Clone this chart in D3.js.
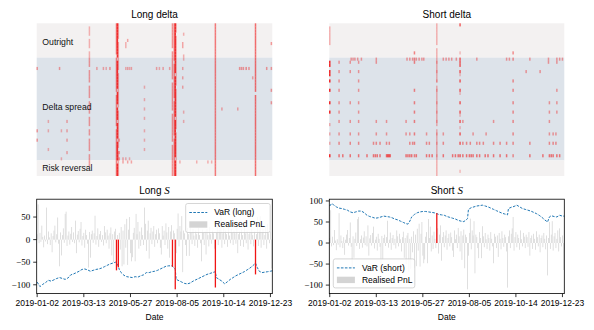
<!DOCTYPE html>
<html>
<head>
<meta charset="utf-8">
<script src="https://cdn.jsdelivr.net/npm/d3@7"></script>
<style>
body { margin: 0; background: #fff; }
svg { font-family: "Liberation Sans", Arial, sans-serif; }
</style>
</head>
<body>
<script>
// ---- data ----
var tickDays = [0, 50, 100, 150, 200, 250];
var tickLabels = ["2019-01-02", "2019-03-13", "2019-05-27", "2019-08-05", "2019-10-14", "2019-12-23"];

var groupNames = ["Outright", "Delta spread", "Risk reversal"];
var groupRows = [11, 33, 5];

// realised PnL per business day (same series in both panels)
var pnl = [
  12, 78, -8, 15, -5, 31, 6, -17, 9, -4,
  71, -10, 18, 5, -12, 14, -28, 8, 20, 31,
  -6, 12, 49, -9, -59, 16, -35, 10, 25, -7,
  57, 62, -14, 9, 18, -11, 13, 28, -5, 16,
  -8, 42, -30, 11, 19, -6, 24, 39, -13, 8,
  15, -18, 22, 10, -9, -62, 17, -40, 12, 20,
  -7, 14, 53, -11, 8, 25, -16, 12, 19, -5,
  10, -13, 30, 16, -8, 22, 9, -20, 14, 27,
  -35, 12, -50, 18, 24, -68, 10, -61, 15, -22,
  28, -59, 20, -55, 34, -18, 46, -56, 22, 50,
  -30, -48, -39, 15, 26, -48, 57, 12, 39, -20,
  18, -14, 27, 10, -12, 71, 35, -25, 20, 42,
  -42, 14, 26, -10, 18, 30, -16, 12, 22, -8,
  25, 14, -18, -33, 30, 9, 20, -12, 36, 16,
  -20, 28, -40, 18, 32, -60, 20, 14, -110, -30,
  24, 58, -15, 30, 18, 52, -72, 20, 14, -12,
  -36, 26, 12, -36, 40, 16, -10, 24, 9, -14,
  20, 12, -18, 26, 10, -8, -48, 22, 15, -12,
  18, -33, 24, 10, -15, 28, 12, -9, 20, 14,
  -20, -106, 16, 30, -12, 22, 35, 62, -18, 14,
  26, -10, 20, 12, -16, 30, 9, -8, 24, 15,
  -12, 20, 14, -9, 26, -30, 12, 18, -14, 22,
  10, -16, 28, 14, -8, 20, -22, 12, 18, -10,
  24, 10, -15, 18, -77, 12, 50, -14, 20, 52,
  -18, 16, 24, -12, 10, 30, -20, 35, 14, -8,
  18, -64
];

// VaR: [day, value]
var varLong = [[0,-94],[3,-104],[6,-99],[9,-95],[12,-90],[15,-92],[18,-89],[21,-86],[24,-84],[27,-86],
  [30,-88],[33,-85],[36,-78],[39,-76],[42,-73],[45,-70],[48,-66],[51,-65],[54,-67],[57,-70],
  [60,-68],[63,-66],[66,-65],[69,-63],[72,-60],[75,-57],[78,-54],[81,-52],[84,-50],[86,-53],
  [88,-66],[90,-73],[93,-79],[96,-82],[99,-83],[102,-84],[105,-82],[108,-83],[111,-80],[114,-78],
  [117,-73],[120,-73],[123,-71],[126,-70],[129,-68],[132,-65],[135,-62],[138,-59],[141,-58],[144,-58],
  [146,-61],[148,-66],[149,-88],[152,-91],[155,-94],[158,-97],[161,-98],[164,-96],[167,-92],[170,-89],
  [173,-86],[176,-83],[179,-80],[182,-77],[185,-75],[188,-73],[191,-71],[192,-84],[195,-88],[198,-92],
  [201,-98],[204,-93],[207,-88],[210,-84],[213,-80],[216,-77],[219,-74],[222,-71],[225,-67],[228,-63],
  [231,-58],[233,-54],[234,-52],[236,-62],[238,-70],[241,-73],[244,-72],[247,-71],[250,-70],[252,-69]];

var varShort = [[0,88],[2,94],[4,91],[7,86],[10,83],[13,82],[16,80],[19,78],[22,74],[25,72],
  [28,74],[31,76],[34,76],[37,72],[40,66],[43,63],[46,61],[49,59],[52,60],[55,62],
  [58,64],[61,63],[64,62],[67,60],[70,57],[73,55],[76,52],[79,49],[82,46],[84,45],
  [86,52],[88,62],[91,68],[94,72],[97,74],[100,75],[103,75],[106,74],[109,73],[112,72],
  [115,70],[117,68],[120,67],[123,66],[126,63],[129,61],[132,59],[135,57],[138,54],[141,52],
  [144,51],[146,54],[148,58],[149,80],[152,84],[155,86],[158,88],[161,89],[164,90],[167,88],
  [170,86],[173,83],[176,80],[179,77],[182,74],[185,71],[188,69],[191,67],[192,82],[195,85],
  [198,87],[201,90],[204,86],[207,82],[210,80],[213,78],[216,76],[219,73],[222,70],[225,66],
  [228,61],[231,55],[234,50],[236,62],[238,65],[241,63],[244,62],[247,66],[250,64],[252,64]];

var longBreaches = [85, 87, 145, 148, 191, 234];
var shortBreaches = [115];

// heatmap columns: [day, alpha, fromRow, toRow, rows left empty]
var longHeatCols = [
  [56, 0.3, 1, 10, [4, 8]],
  [56, 0.4, 11, 45, [14, 19, 24, 29, 33, 36, 41]],
  [85, 0.5, 0, 48, [10, 22, 33]],
  [86, 0.85, 0, 48, [11, 21, 26, 31, 37, 44]],
  [87, 0.35, 0, 48, [5, 15, 27, 40]],
  [145, 0.45, 0, 48, [8, 18, 28, 38]],
  [147, 0.5, 0, 48, [12, 24, 36]],
  [148, 0.85, 0, 48, [16, 30, 43]],
  [149, 0.3, 0, 48, [3, 20, 34]],
  [191, 0.55, 0, 48, []],
  [234, 0.6, 0, 48, [22]]
];
// single cells grouped by day: [day, alpha, rows]
var longHeatDots = [
  [0, 0.4, [14, 34, 37]], [12, 0.3, [31, 34, 40]], [24, 0.4, [14]], [26, 0.3, [34, 43]],
  [32, 0.35, [31, 34, 37, 41]], [64, 0.35, [14]], [71, 0.35, [14]], [74, 0.3, [14]],
  [78, 0.4, [14]], [88, 0.35, [37, 41, 43]], [92, 0.35, [43, 44]], [95, 0.3, [6, 7, 14, 43]],
  [97, 0.35, [5, 14, 44]], [99, 0.3, [14, 43]], [101, 0.35, [14, 44]],
  [115, 0.3, [20, 24, 27, 30, 34, 37, 40]], [128, 0.35, [14]], [131, 0.3, [14]],
  [135, 0.35, [14]], [142, 0.35, [14]], [153, 0.3, [44]], [156, 0.35, [6, 7, 14, 17, 20]],
  [157, 0.3, [3, 10, 11, 28, 31]], [171, 0.3, [44]], [183, 0.3, [44]], [187, 0.3, [44]],
  [198, 0.35, [27]], [215, 0.35, [27]], [217, 0.4, [14]], [219, 0.4, [14]], [221, 0.4, [14]],
  [224, 0.45, [14]], [227, 0.4, [14]], [231, 0.35, [17]], [246, 0.4, [14]], [251, 0.4, [6, 14, 21, 25]]
];

var shortHeatCols = [
  [115, 0.3, 0, 48, [7, 19, 33]]
];
var shortHeatDots = [
  [0, 0.9, [12, 13, 15, 16, 18, 21, 25, 28, 42]], [0, 0.3, [1, 2, 3, 4, 5, 6, 32, 35, 38]],
  [91, 0.5, [9, 11, 12, 21, 25, 28, 31, 35, 38, 42]],
  [115, 0.25, [12, 15, 18, 21, 25, 28, 31, 35, 38, 42]],
  [140, 0.65, [0, 11, 12, 13, 15, 18, 21, 25, 28, 31, 35, 38, 42]], [140, 0.25, [9, 16, 22, 29, 33, 47]],
  [197, 0.45, [9, 11, 18, 21, 25, 28, 31, 35, 38, 42]]
];
// single cells grouped by row: [row, alpha, days]
var shortHeatRows = [
  [42, 0.55, [10, 14, 22, 31, 40, 47, 49, 51, 54, 61, 62, 63, 64, 65, 82, 84, 86, 88, 93, 104, 107, 110,
              122, 132, 135, 138, 143, 147, 150, 152, 154, 158, 161, 167, 170, 176, 183, 190, 215, 229,
              236, 238, 240, 244, 247]],
  [38, 0.45, [10, 22, 31, 47, 50, 54, 61, 64, 86, 89, 104, 107, 122, 143, 147, 151, 158, 161, 165,
             176, 183, 190, 215, 236, 240, 243]],
  [35, 0.4, [10, 22, 31, 50, 61, 82, 86, 104, 122, 154, 168, 236, 240, 243]],
  [31, 0.4, [10, 22, 31, 50, 61, 82, 143, 176, 236]],
  [28, 0.4, [10, 31, 236, 244]],
  [25, 0.4, [10, 22, 31, 236, 244]],
  [21, 0.4, [10, 31, 244]],
  [18, 0.4, [10, 31]],
  [15, 0.4, [10, 22, 31, 211, 226]],
  [12, 0.4, [10, 22, 31, 50, 235, 244]],
  [11, 0.4, [23, 25, 27, 30, 34, 50, 83, 86, 89, 93, 96, 99, 101, 122, 125, 128, 131, 136, 158,
              190, 193, 215, 235, 244, 247, 250]]
];

// ---- layout ----
var svg = d3.select("body").append("svg").attr("width", 594).attr("height", 330);

var heatTop = 23.3, heatBottom = 176;
var plotTop = 199.2, plotBottom = 293.6;
var nRows = d3.sum(groupRows);
var labelRows = [6, 27, 46.5];

function xScaleFor(x0, x1) {
  return d3.scaleLinear().domain([-0.5, 252]).range([x0, x1]);
}

function drawHeat(x0, x1, title, cols, dots, rowsList, withLabels) {
  var xs = xScaleFor(x0, x1);
  var ys = d3.scaleLinear().domain([0, nRows]).range([heatTop, heatBottom]);
  var g = svg.append("g");

  // group bands
  var start = 0;
  groupRows.forEach(function(n, i) {
    g.append("rect")
      .attr("x", x0).attr("width", x1 - x0)
      .attr("y", ys(start)).attr("height", ys(start + n) - ys(start))
      .attr("fill", i == 1 ? "#dde3ea" : "#f3f1f1");
    start += n;
  });

  // collect cells
  var cells = [];
  cols.forEach(function(c) {
    for (var r = c[2]; r <= c[3]; r++) {
      if (c[4].indexOf(r) < 0) cells.push({day: c[0], row: r, a: c[1]});
    }
  });
  dots.forEach(function(d) {
    d[2].forEach(function(r) { cells.push({day: d[0], row: r, a: d[1]}); });
  });
  rowsList.forEach(function(d) {
    d[2].forEach(function(day) { cells.push({day: day, row: d[0], a: d[1]}); });
  });

  var cw = 1.5;
  g.selectAll(".cell").data(cells).enter().append("rect")
    .attr("x", function(d) { return xs(d.day) - cw / 2; })
    .attr("width", cw)
    .attr("y", function(d) { return ys(d.row); })
    .attr("height", ys(1) - ys(0))
    .style("fill", "rgb(240,20,20)")
    .style("fill-opacity", function(d) { return d.a; });

  if (withLabels) {
    groupNames.forEach(function(name, i) {
      g.append("text")
        .attr("x", x0 + 5.6).attr("y", ys(labelRows[i]))
        .attr("dy", "0.35em")
        .attr("font-size", 8.7).attr("fill", "#111")
        .text(name);
    });
  }

  svg.append("text")
    .attr("x", (x0 + x1) / 2).attr("y", 17.5)
    .attr("text-anchor", "middle").attr("font-size", 10)
    .text(title);
}

function drawPanel(x0, x1, yDomain, yTicks, varPts, breaches, title, legend) {
  var xs = xScaleFor(x0, x1);
  var ys = d3.scaleLinear().domain(yDomain).range([plotBottom, plotTop]);
  var g = svg.append("g");
  var bw = (xs(1) - xs(0)) * 0.8;

  var bars = pnl.map(function(v, i) { return {day: i, v: v}; });

  g.selectAll(".bar").data(bars.filter(function(d) { return breaches.indexOf(d.day) < 0; }))
    .enter().append("rect")
    .attr("x", function(d) { return xs(d.day) - bw / 2; })
    .attr("width", bw)
    .attr("y", function(d) { return ys(Math.max(0, d.v)); })
    .attr("height", function(d) { return Math.abs(ys(d.v) - ys(0)); })
    .attr("fill", "#d4d4d4");

  var line = d3.line()
    .x(function(d) { return xs(d[0]); })
    .y(function(d) { return ys(d[1]); });

  g.append("path")
    .datum(varPts)
    .attr("d", line)
    .attr("fill", "none")
    .attr("stroke", "#1f77b4")
    .attr("stroke-width", 1)
    .attr("stroke-dasharray", "2.6,1.4");

  g.selectAll(".breach").data(bars.filter(function(d) { return breaches.indexOf(d.day) >= 0; }))
    .enter().append("rect")
    .attr("x", function(d) { return xs(d.day) - 0.65; })
    .attr("width", 1.3)
    .attr("y", function(d) { return ys(Math.max(0, d.v)); })
    .attr("height", function(d) { return Math.abs(ys(d.v) - ys(0)); })
    .attr("fill", "#f01414");

  // frame
  g.append("rect")
    .attr("x", x0).attr("y", plotTop)
    .attr("width", x1 - x0).attr("height", plotBottom - plotTop)
    .attr("fill", "none").attr("stroke", "#000").attr("stroke-width", 0.8);

  // x ticks
  tickDays.forEach(function(d, i) {
    var x = xs(d);
    g.append("line").attr("x1", x).attr("x2", x)
      .attr("y1", plotBottom).attr("y2", plotBottom + 3.5)
      .attr("stroke", "#000").attr("stroke-width", 0.8);
    g.append("text").attr("x", x).attr("y", plotBottom + 12)
      .attr("text-anchor", "middle").attr("font-size", 8.5)
      .text(tickLabels[i]);
  });
  g.append("text").attr("x", (x0 + x1) / 2).attr("y", 319.5)
    .attr("text-anchor", "middle").attr("font-size", 8.5).text("Date");

  // y ticks
  yTicks.forEach(function(v) {
    var y = ys(v);
    g.append("line").attr("x1", x0 - 3.5).attr("x2", x0)
      .attr("y1", y).attr("y2", y)
      .attr("stroke", "#000").attr("stroke-width", 0.8);
    g.append("text").attr("x", x0 - 6.5).attr("y", y).attr("dy", "0.35em")
      .attr("text-anchor", "end")
      .attr("font-family", "'Liberation Serif', 'Times New Roman', serif")
      .attr("font-size", 9)
      .text(v < 0 ? "\u2212" + Math.abs(v) : v);
  });

  // title with math-italic S
  var t = svg.append("text").attr("x", (x0 + x1) / 2).attr("y", 194)
    .attr("text-anchor", "middle").attr("font-size", 10);
  t.append("tspan").text(title + " ");
  t.append("tspan").attr("font-family", "'Liberation Serif', serif")
    .attr("font-style", "italic").attr("font-size", 11).text("S");

  // legend
  var lg = g.append("g").attr("transform", "translate(" + legend.x + "," + legend.y + ")");
  lg.append("rect").attr("width", legend.w).attr("height", 29)
    .attr("rx", 2).attr("fill", "#fff").attr("fill-opacity", 0.8)
    .attr("stroke", "#cccccc").attr("stroke-width", 0.8);
  lg.append("line").attr("x1", 3.6).attr("x2", 21.6).attr("y1", 9).attr("y2", 9)
    .attr("stroke", "#1f77b4").attr("stroke-width", 1).attr("stroke-dasharray", "2.6,1.4");
  lg.append("text").attr("x", 28.6).attr("y", 9).attr("dy", "0.35em")
    .attr("font-size", 8.5).text(legend.label);
  lg.append("rect").attr("x", 3.6).attr("y", 17.8).attr("width", 18).attr("height", 6.4)
    .attr("fill", "#d4d4d4");
  lg.append("text").attr("x", 28.6).attr("y", 21).attr("dy", "0.35em")
    .attr("font-size", 8.5).text("Realised PnL");
}

drawHeat(36.7, 272.3, "Long delta", longHeatCols, longHeatDots, [], true);
drawHeat(329.3, 564.3, "Short delta", shortHeatCols, shortHeatDots, shortHeatRows, false);

drawPanel(36.7, 272.3, [-119.5, 89.5], [-100, -50, 0, 50], varLong, longBreaches, "Long",
  {x: 185.7, y: 203.5, w: 84.5, label: "VaR (long)"});
drawPanel(329.3, 564.3, [-120.2, 104.2], [-100, -50, 0, 50, 100], varShort, shortBreaches, "Short",
  {x: 333.3, y: 258.9, w: 81.5, label: "VaR (short)"});
</script>
</body>
</html>
